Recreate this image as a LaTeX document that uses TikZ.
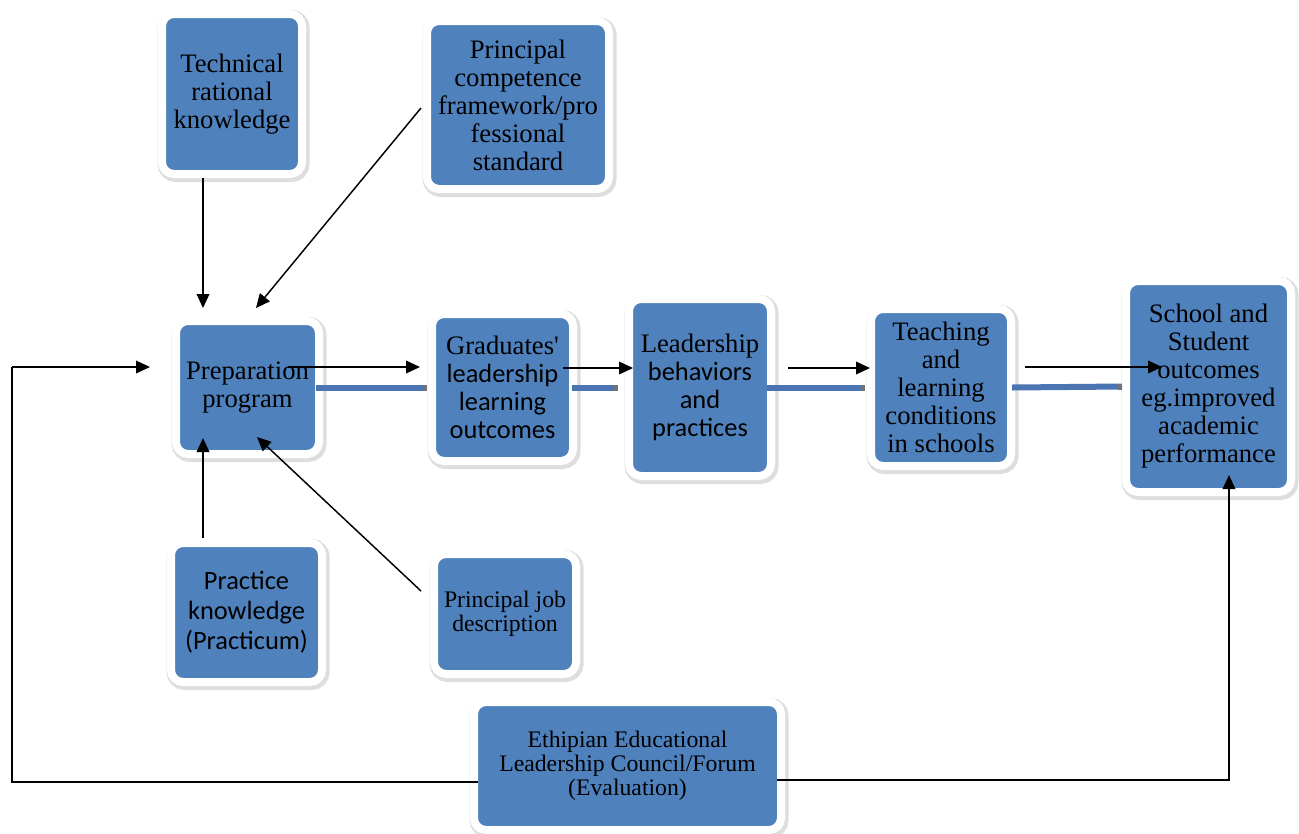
\documentclass[tikz,border=0pt]{standalone}
\usepackage{fontspec}
\setmainfont{Liberation Serif}
\newfontfamily\calfont{Carlito}
\newfontfamily\serifplain{Liberation Serif}
\usetikzlibrary{arrows.meta,calc}
\definecolor{boxblue}{HTML}{4F81BD}
\definecolor{linkblue}{HTML}{4A74B2}
\newcommand{\sansline}{\calfont\fontsize{19.8}{22.5}\selectfont}
\begin{document}
\begin{tikzpicture}[x=0.75pt,y=-0.75pt,
  box/.style={rectangle, rounded corners=9pt, fill=boxblue, draw=white,
    line width=6pt, outer sep=0pt, inner sep=0pt, align=center,
    font=\fontsize{20}{21}\selectfont,
    preaction={draw=black!13, line width=9pt,
      transform canvas={xshift=1.2pt,yshift=-1.5pt}}},
  arr/.style={draw=black, line width=1.1pt, -{Triangle[length=10.5pt,width=9.5pt]}},
  link/.style={draw=linkblue, line width=4.5pt},
  stub/.style={draw=black!55, line width=4.5pt},
  fb/.style={draw=black, line width=1.3pt}]
\useasboundingbox (0,0) rectangle (1299,833);

% boxes
\node[box, minimum width=105pt, minimum height=120pt] (tech) at (232,94)
  {Technical\\rational\\knowledge};
\node[box, minimum width=136.5pt, minimum height=126pt] (comp) at (518,105)
  {Principal\\competence\\framework/pro\\fessional\\standard};
\node[box, minimum width=107.25pt, minimum height=99.75pt] (prep) at (247.5,387.5)
  {Preparation\\program};
\node[box, minimum width=105.75pt, minimum height=110.25pt] (grad) at (502.5,387.5)
  {Graduates{\serifplain'}\\\sansline leadership\\\sansline learning\\\sansline outcomes};
\node[box, minimum width=106.5pt, minimum height=132.75pt] (lead) at (700,387.5)
  {Leadership\\\sansline behaviors\\\sansline and\\\sansline practices};
\node[box, minimum width=105pt, minimum height=117.75pt] (teach) at (941,387.5)
  {Teaching\\and\\learning\\conditions\\in schools};
\node[box, minimum width=123.75pt, minimum height=158.25pt] (school) at (1208.5,386.5)
  {School and\\Student\\outcomes\\eg.improved\\academic\\performance};
\node[box, minimum width=113.25pt, minimum height=104.25pt, font=\sansline] (prac) at (246.5,612.5)
  {Practice\\knowledge\\(Practicum)};
\node[box, minimum width=106.5pt, minimum height=90pt, font=\fontsize{17.8}{18}\selectfont] (job) at (505,614)
  {Principal job\\description};
\node[box, minimum width=230.25pt, minimum height=96pt, font=\fontsize{17.8}{18}\selectfont] (eth) at (627.5,766)
  {Ethipian Educational\\Leadership Council/Forum\\(Evaluation)};

% inputs to preparation program
\draw[arr] ($(tech.south)+(-29,4)$) -- ($(prep.north)+(-44.5,-13)$);
\draw[arr] ($(comp.west)+(-6,3)$) -- ($(prep.north)+(8.5,-13)$);
\draw[arr] ($(prac.north)+(-43.5,-5)$) -- ($(prep.south)+(-44.5,-16)$);
\draw[arr] ($(job.west)+(-13,-23)$) -- ($(prep.south)+(9.5,-17)$);

% blue links
\draw[link] ($(prep.east)+(-3,0.5)$) -- ($(grad.west)+(-5,0.5)$);
\draw[stub] ($(grad.west)+(-9,0.5)$) -- ($(grad.west)+(-5,0.5)$);
\draw[link] ($(grad.east)+(-1,0.5)$) -- ($(lead.west)+(-11,0.5)$);
\draw[stub] ($(lead.west)+(-15,0.5)$) -- ($(lead.west)+(-11,0.5)$);
\draw[link] ($(lead.east)+(-4,0)$) -- ($(teach.west)+(-6,0)$);
\draw[stub] ($(teach.west)+(-10,0)$) -- ($(teach.west)+(-6,0)$);
\draw[link] ($(teach.east)+(1,0)$) -- ($(school.west)+(-4,0)$);
\draw[stub] ($(school.west)+(-8,0)$) -- ($(school.west)+(-4,0)$);

% black flow arrows
\draw[arr] ($(prep.center)+(40.5,-20.5)$) -- ($(grad.west)+(-12,-20.5)$);
\draw[arr] ($(grad.east)+(-10,-19.5)$) -- ($(lead.west)+(4,-19.5)$);
\draw[arr] ($(lead.east)+(17,-19.5)$) -- ($(teach.west)+(-1,-19.5)$);
\draw[arr] ($(teach.east)+(14,-20.5)$) -- ($(school.west)+(36,-19.5)$);

% feedback loops
\coordinate (fbL) at (12,367);
\draw[fb] ($(eth.west)+(4,16)$) -| (fbL);
\draw[arr] (fbL) -- ($(prep.west)+(-26,-20.5)$);
\draw[fb] ($(eth.east)+(-4,14)$) -| ($(school.south)+(20.5,-12)$);
\draw[arr] ($(school.south)+(20.5,-14)$) -- ($(school.south)+(20.5,-17)$);
\end{tikzpicture}
\end{document}
